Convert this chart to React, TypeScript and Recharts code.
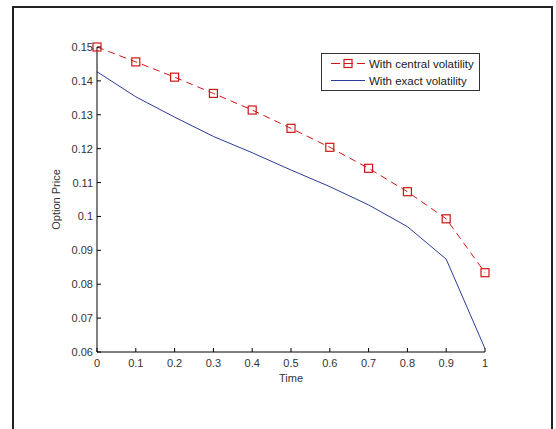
import React from 'react';
import { LineChart, Line, XAxis, YAxis, Legend, Label } from 'recharts';

const times = [0, 0.1, 0.2, 0.3, 0.4, 0.5, 0.6, 0.7, 0.8, 0.9, 1];
const centralVolatility = [0.15, 0.1456, 0.1411, 0.1363, 0.1314, 0.126, 0.1204, 0.1142, 0.1073, 0.0993, 0.0834];
const exactVolatility = [0.1427, 0.1353, 0.1293, 0.1236, 0.1188, 0.1137, 0.1088, 0.1034, 0.097, 0.0874, 0.061];
const xTicks = [0, 0.1, 0.2, 0.3, 0.4, 0.5, 0.6, 0.7, 0.8, 0.9, 1];
const yTicks = [0.06, 0.07, 0.08, 0.09, 0.1, 0.11, 0.12, 0.13, 0.14, 0.15];

const data = times.map((t, i) => ({ t, central: centralVolatility[i], exact: exactVolatility[i] }));

const FONT = '"Liberation Sans", Arial, sans-serif';
const RED = '#d01515';
const BLUE = '#2c3c96';
const TICK_COLOR = '#333';

function XTick({ x, y, payload }: any) {
  return (
    <g>
      <line x1={x} x2={x} y1={y} y2={y - 4} stroke="#000" />
      <text x={x} y={y + 15} textAnchor="middle" fontSize={11} fontFamily={FONT} fill={TICK_COLOR}>
        {String(payload.value)}
      </text>
    </g>
  );
}

function YTick({ x, y, payload }: any) {
  return (
    <g>
      <line x1={x} x2={x + 4} y1={y} y2={y} stroke="#000" />
      <text x={x - 4} y={y + 4} textAnchor="end" fontSize={11} fontFamily={FONT} fill={TICK_COLOR}>
        {String(payload.value)}
      </text>
    </g>
  );
}

function SquareDot({ cx, cy }: any) {
  if (cx == null || cy == null) return null;
  return <rect x={cx - 4} y={cy - 4} width={8} height={8} fill="none" stroke={RED} strokeWidth={1.2} />;
}

function LegendBox() {
  return (
    <svg width={160} height={39} style={{ display: 'block' }}>
      <rect x={0.5} y={0.5} width={158} height={37} fill="#fff" stroke="#333" />
      <line x1={10} x2={44} y1={10.5} y2={10.5} stroke={RED} strokeDasharray="9 4" />
      <rect x={23} y={6.5} width={8} height={8} fill="none" stroke={RED} strokeWidth={1.2} />
      <text x={48} y={14.5} fontSize={11.5} fontFamily={FONT} fill="#222">With central volatility</text>
      <line x1={10} x2={44} y1={27.5} y2={27.5} stroke={BLUE} />
      <text x={48} y={31.5} fontSize={11.5} fontFamily={FONT} fill="#222">With exact volatility</text>
    </svg>
  );
}

export default function App() {
  return (
    <div style={{ position: 'absolute', left: 0, top: 0, width: 556, height: 429, background: '#fff', overflow: 'hidden' }}>
      <div
        style={{
          position: 'absolute',
          left: 12,
          top: 6,
          width: 537,
          height: 440,
          borderTop: '2px solid #222',
          borderLeft: '2px solid #222',
          borderRight: '2px solid #222',
        }}
      />
      <div style={{ position: 'absolute', left: 0, top: 0 }}>
        <LineChart width={556} height={429} data={data} margin={{ top: 47, right: 71, bottom: 47, left: 47 }}>
          <XAxis
            dataKey="t"
            type="number"
            domain={[0, 1]}
            ticks={xTicks}
            height={30}
            tickSize={0}
            tickMargin={0}
            tickLine={false}
            axisLine={{ stroke: '#000' }}
            tick={<XTick />}
            interval={0}
          >
            <Label
              content={({ viewBox }: any) => (
                <text x={viewBox.x + viewBox.width / 2} y={viewBox.y + 30} textAnchor="middle" fontSize={11} fontFamily={FONT} fill={TICK_COLOR}>
                  Time
                </text>
              )}
            />
          </XAxis>
          <YAxis
            type="number"
            domain={[0.06, 0.15]}
            ticks={yTicks}
            width={50}
            tickSize={0}
            tickMargin={0}
            tickLine={false}
            axisLine={{ stroke: '#000' }}
            tick={<YTick />}
            interval={0}
          >
            <Label
              content={({ viewBox }: any) => {
                const cx = 60;
                const cy = viewBox.y + viewBox.height / 2;
                return (
                  <text x={cx} y={cy} transform={`rotate(-90, ${cx}, ${cy})`} textAnchor="middle" fontSize={11} fontFamily={FONT} fill={TICK_COLOR}>
                    Option Price
                  </text>
                );
              }}
            />
          </YAxis>
          <Legend
            layout="vertical"
            align="center"
            verticalAlign="middle"
            content={<LegendBox />}
            wrapperStyle={{ position: 'absolute', left: 321, top: 53, width: 160, height: 39 }}
          />
          <Line
            type="linear"
            dataKey="exact"
            stroke={BLUE}
            strokeWidth={1}
            dot={false}
            activeDot={false}
            isAnimationActive={false}
          />
          <Line
            type="linear"
            dataKey="central"
            stroke={RED}
            strokeWidth={1}
            strokeDasharray="7 5"
            dot={<SquareDot />}
            activeDot={false}
            isAnimationActive={false}
          />
        </LineChart>
      </div>
    </div>
  );
}
